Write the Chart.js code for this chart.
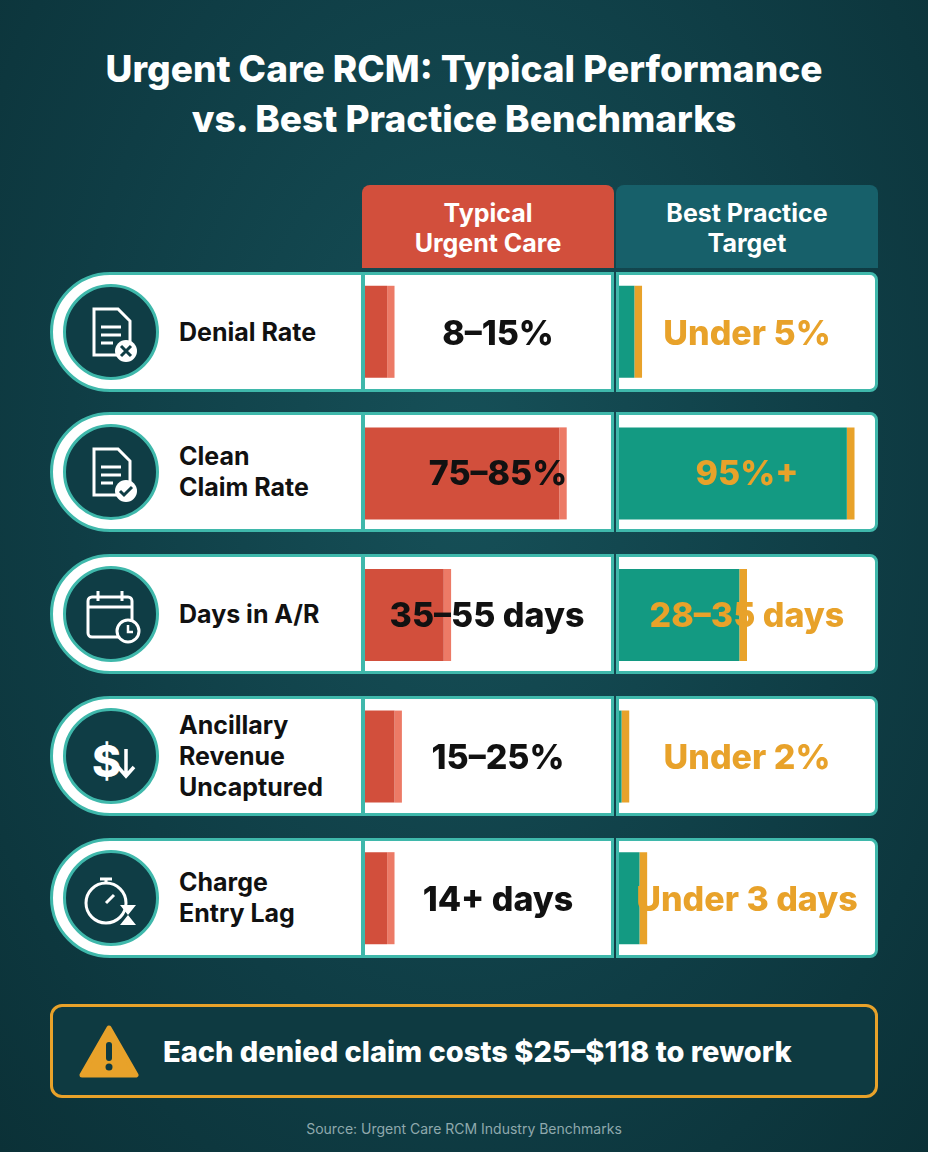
<!DOCTYPE html>
<html><head><meta charset="utf-8">
<script src="https://cdn.jsdelivr.net/npm/chart.js@4"></script>
<style>
*{margin:0;padding:0;box-sizing:border-box}
body{width:928px;height:1152px;background:radial-gradient(ellipse at 50% 40%,#165058 0%,#0f3d45 60%,#0b3137 100%);font-family:Inter,"Open Sans",sans-serif;position:relative;overflow:hidden}
.title{position:absolute;top:44px;width:100%;text-align:center;color:#fff;font-weight:800;font-size:37px;line-height:50px}
.hdr{position:absolute;top:185px;height:83px;color:#fff;font-weight:700;font-size:25px;line-height:30px;text-align:center;padding-top:13px;border-radius:8px 8px 0 0}
.lab{position:absolute;left:50px;width:314px;height:120px;background:#fff;border:3px solid #3fb8ab;border-radius:60px 0 0 60px}
.icon{position:absolute;left:10px;top:9px;width:96px;height:96px;border-radius:50%;background:#0f3d45;border:3px solid #3fb8ab}
.lt{position:absolute;left:126px;top:0;height:114px;display:flex;align-items:center;font-weight:700;font-size:25px;line-height:31px;color:#111}
.cell{position:absolute;height:120px;background:#fff;border:3px solid #3fb8ab}
.tv{position:absolute;height:120px;display:flex;align-items:center;justify-content:center;font-weight:800;font-size:34px}
canvas{position:absolute}
.warn{position:absolute;left:50px;top:1004px;width:828px;height:94px;border:3px solid #e8a22a;border-radius:12px;background:#0e3a41}
.src{position:absolute;top:1120px;width:100%;text-align:center;color:#8fa9ad;font-size:14px}
</style></head><body>
<div class="title">Urgent Care RCM: Typical Performance<br>vs. Best Practice Benchmarks</div>
<div class="hdr" style="left:362px;width:252px;background:#d24f3c">Typical<br>Urgent Care</div>
<div class="hdr" style="left:616px;width:262px;background:#17606a">Best Practice<br>Target</div>
<div id="rows"></div>
<canvas id="c1" style="left:362px;top:261px;width:252px;height:708px"></canvas>
<canvas id="c2" style="left:616px;top:261px;width:262px;height:708px"></canvas>
<div id="txt"></div>
<div class="warn">
<svg style="position:absolute;left:26px;top:18px" width="60" height="54" viewBox="0 0 60 54"><path d="M30 3 L57 50 L3 50 Z" fill="#e8a22a" stroke="#e8a22a" stroke-width="5" stroke-linejoin="round"/><rect x="27" y="17" width="6" height="19" rx="3" fill="#0e3a41"/><circle cx="30" cy="42" r="3.5" fill="#0e3a41"/></svg>
<div style="position:absolute;left:110px;top:0;height:88px;display:flex;align-items:center;color:#fff;font-weight:800;font-size:29px">Each denied claim costs $25–$118 to rework</div>
</div>
<div class="src">Source: Urgent Care RCM Industry Benchmarks</div>
<script>
const metrics=["Denial Rate","Clean<br>Claim Rate","Days in A/R","Ancillary<br>Revenue<br>Uncaptured","Charge<br>Entry Lag"];
const typicalText=["8–15%","75–85%","35–55 days","15–25%","14+ days"];
const bestText=["Under 5%","95%+","28–35 days","Under 2%","Under 3 days"];
const typicalBar=[9,79,32,12,9];
const bestBar=[6,89,47,1,8];
const endCap=[3,3,3,3,3];
const rowTop=[272,412,554,696,838];
const icons=[
'<path d="M28 22h24l12 12v34H28z" fill="none" stroke="#fff" stroke-width="3"/><path d="M35 40h20M35 48h20M35 56h12" stroke="#fff" stroke-width="3"/><circle cx="60" cy="64" r="11" fill="#fff"/><path d="M55 59l10 10M65 59l-10 10" stroke="#0f3d45" stroke-width="3"/>',
'<path d="M28 22h24l12 12v34H28z" fill="none" stroke="#fff" stroke-width="3"/><path d="M35 40h20M35 48h20M35 56h12" stroke="#fff" stroke-width="3"/><circle cx="60" cy="64" r="11" fill="#fff"/><path d="M54 64l4 4 8-8" fill="none" stroke="#0f3d45" stroke-width="3"/>',
'<rect x="22" y="28" width="44" height="40" rx="4" fill="none" stroke="#fff" stroke-width="3"/><path d="M22 38h44M32 22v10M56 22v10" stroke="#fff" stroke-width="3"/><circle cx="62" cy="62" r="11" fill="#0f3d45" stroke="#fff" stroke-width="3"/><path d="M62 56v7h5" stroke="#fff" stroke-width="2.5" fill="none"/>',
'<text x="26" y="66" fill="#fff" font-size="44" font-weight="800" font-family="Inter">$</text><path d="M60 38v26M52 56l8 9 8-9" fill="none" stroke="#fff" stroke-width="3.5"/>',
'<circle cx="40" cy="50" r="20" fill="none" stroke="#fff" stroke-width="3"/><path d="M34 26h12M40 26v4M40 50l8-8" stroke="#fff" stroke-width="3"/><path d="M54 52h16l-8 10 8 10H54l8-10z" fill="#fff"/>'
];
let rh='',th='';
for(let i=0;i<5;i++){
 rh+=`<div class="lab" style="top:${rowTop[i]}px"><div class="icon"><svg width="90" height="90" viewBox="0 0 90 90">${icons[i]}</svg></div><div class="lt">${metrics[i]}</div></div>`;
 rh+=`<div class="cell" style="left:362px;width:252px;top:${rowTop[i]}px"></div><div class="cell" style="left:616px;width:262px;top:${rowTop[i]}px;border-radius:0 8px 8px 0"></div>`;
 th+=`<div class="tv" style="left:${i==2?370:382}px;width:${i==2?234:232}px;top:${rowTop[i]}px;color:#111">${typicalText[i]}</div>`;
 th+=`<div class="tv" style="left:620px;width:254px;top:${rowTop[i]}px;color:#e8a22a">${bestText[i]}</div>`;
}
document.getElementById('rows').innerHTML=rh;
document.getElementById('txt').innerHTML=th;
function mk(id,vals,c1,c2){
 new Chart(document.getElementById(id),{type:'bar',
  data:{labels:metrics.map(m=>m.replace(/<br>/g,' ')),datasets:[
   {data:vals,backgroundColor:c1,barPercentage:0.65,categoryPercentage:1},
   {data:endCap,backgroundColor:c2,barPercentage:0.65,categoryPercentage:1}]},
  options:{indexAxis:'y',responsive:false,animation:false,maintainAspectRatio:false,
   layout:{padding:{left:3,right:3}},
   plugins:{legend:{display:false},tooltip:{enabled:false}},
   scales:{x:{stacked:true,min:0,max:100,display:false},y:{stacked:true,display:false}}}});
}
const cv1=document.getElementById('c1'),cv2=document.getElementById('c2');
cv1.width=252;cv1.height=708;cv2.width=262;cv2.height=708;
mk('c1',typicalBar,'#d24f3c','#ec7a66');
mk('c2',bestBar,'#139a82','#e8a22a');
</script>
</body></html>
